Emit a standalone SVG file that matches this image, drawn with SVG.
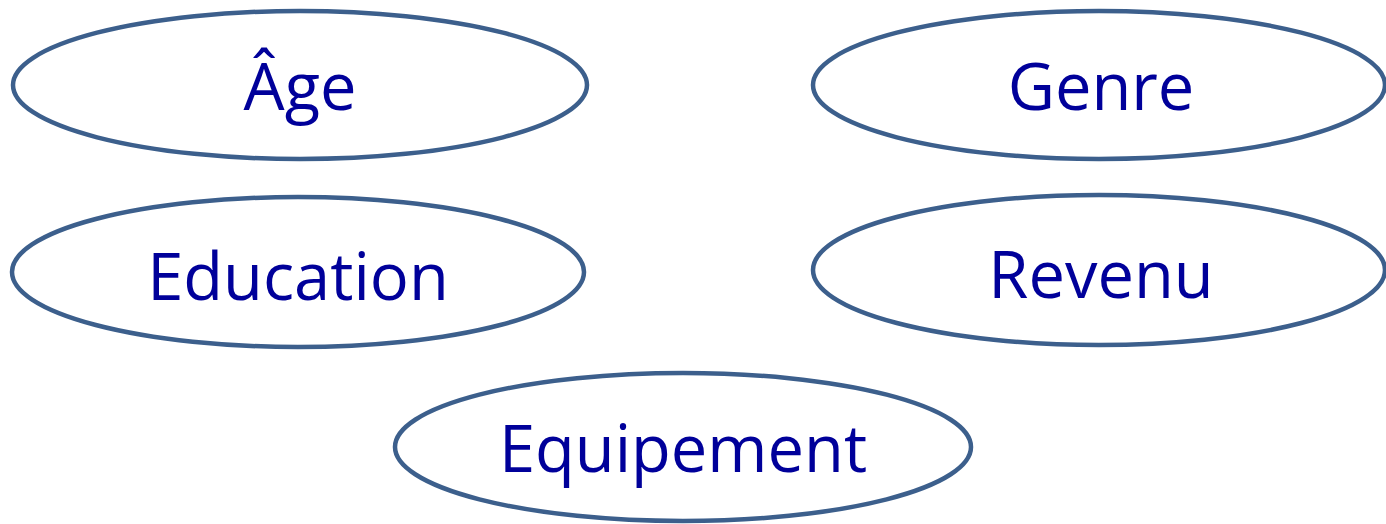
<svg xmlns="http://www.w3.org/2000/svg" width="1386" height="524" viewBox="0 0 1386 524">
<style>
.n ellipse{fill:#fff;stroke:#3c5f8c;stroke-width:4.5}
.n text{font-family:"Open Sans","Liberation Sans",sans-serif;font-size:65px;fill:#00009a;text-anchor:middle}
</style>
<rect width="1386" height="524" fill="#fff"/>
<g id="connectors"></g>
<g id="age" class="n"><ellipse cx="300" cy="85" rx="287" ry="74"/><text x="300" y="110">Âge</text></g>
<g id="genre" class="n"><ellipse cx="1099" cy="85" rx="286" ry="74"/><text x="1101" y="110">Genre</text></g>
<g id="education" class="n"><ellipse cx="298" cy="272" rx="286" ry="75"/><text x="298" y="300">Education</text></g>
<g id="revenu" class="n"><ellipse cx="1099" cy="270" rx="286" ry="75"/><text x="1101" y="298">Revenu</text></g>
<g id="equipement" class="n"><ellipse cx="683" cy="447" rx="288" ry="74"/><text x="683" y="472">Equipement</text></g>
</svg>
